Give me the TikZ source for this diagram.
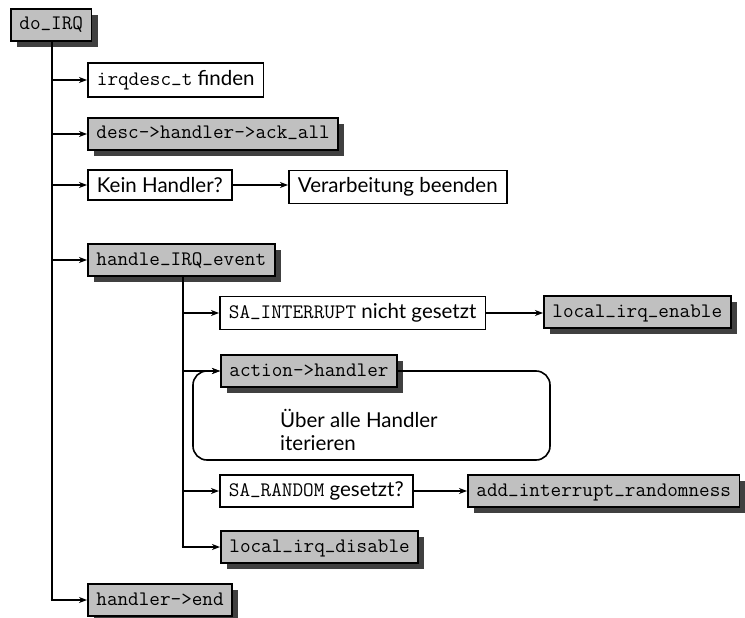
\documentclass[tikz,border=0pt]{standalone}
\usepackage{fontspec}
\setmainfont{Lato}
\usetikzlibrary{arrows.meta,shadows}
\definecolor{boxgray}{HTML}{C0C0C0}
\definecolor{shadowgray}{HTML}{404040}
\newcommand{\code}[1]{{\fontsize{20.6}{24}\ttfamily #1}}
\newcommand{\us}{\raisebox{0.16em}{\_}}
\tikzset{
  every node/.style={font=\fontsize{20.5}{23}\selectfont},
  plainbox/.style={draw, line width=1.8pt, fill=white, inner xsep=9pt, inner ysep=7pt, anchor=west},
  codebox/.style={draw, line width=1.8pt, fill=boxgray, inner xsep=8.5pt, inner ysep=7pt,
    text height=14pt, text depth=4pt, anchor=west,
    general shadow={shadow xshift=6pt, shadow yshift=-6pt, fill=shadowgray}},
  trunk/.style={line width=2.6pt},
  branch/.style={line width=1.6pt, -{Stealth[length=8pt,width=6pt,inset=2.5pt]}},
}
\begin{document}
\begin{tikzpicture}[x=1pt,y=-1pt]
\useasboundingbox (0,0) rectangle (745,618);

% top level
\node[codebox] (doirq) at (10,25) {\code{do\us IRQ}};
\node[plainbox] (find) at (87,80) {\code{irqdesc\us t} finden};
\node[codebox] (ack) at (87,134) {\code{desc->handler->ack\us all}};
\node[plainbox] (kein) at (87,185) {Kein Handler?};
\node[plainbox] (stop) at (288,187) {Verarbeitung beenden};
\node[codebox] (hev) at (87,260) {\code{handle\us IRQ\us event}};
\node[codebox] (hend) at (87,600) {\code{handler->end}};

% inside handle_IRQ_event
\node[plainbox] (sai) at (219,313) {\code{SA\us INTERRUPT} nicht gesetzt};
\node[codebox] (lie) at (543,312) {\code{local\us irq\us enable}};
\node[codebox] (ah) at (220,371) {\code{action->handler}};
\node[plainbox] (sar) at (219,491) {\code{SA\us RANDOM} gesetzt?};
\node[codebox] (air) at (467,491) {\code{add\us interrupt\us randomness}};
\node[codebox] (lid) at (220,547) {\code{local\us irq\us disable}};

\node[anchor=west, align=left, inner sep=0pt] (itlabel) at (280,430)
  {Über alle Handler\\iterieren};

% trunks
\coordinate (t1) at (52,600);
\coordinate (t2) at (183,547);
\draw[trunk] (doirq.south -| t1) -- (t1);
\draw[trunk] (hev.south -| t2) -- (t2);

% branches off the main trunk
\draw[branch] (find.west -| t1) -- (find.west);
\draw[branch] (ack.west -| t1) -- (ack.west);
\draw[branch] (kein.west -| t1) -- (kein.west);
\draw[branch] (hev.west -| t1) -- (hev.west);
\draw[branch, shorten <=-1.3pt] (t1) -- (hend.west);
\draw[branch] (kein.east) -- (kein.east -| stop.west);

% branches off the inner trunk
\draw[branch] (sai.west -| t2) -- (sai.west);
\draw[branch] (ah.west -| t2) -- (ah.west);
\draw[branch] (sar.west -| t2) -- (sar.west);
\draw[branch, shorten <=-1.3pt] (t2) -- (lid.west);
\draw[branch] (sai.east) -- (sai.east -| lie.west);
\draw[branch] (sar.east) -- (sar.east -| air.west);

% loop over all handlers
\coordinate (loopR) at (550,460);
\coordinate (loopL) at (193,460);
\draw[branch, rounded corners=14pt] (ah.east) -| (loopR) -- (loopL) |- (ah.west);
\end{tikzpicture}
\end{document}
